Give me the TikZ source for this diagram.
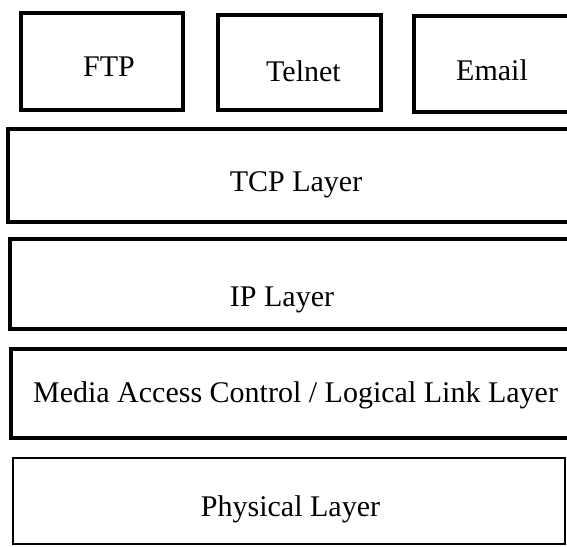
\documentclass[tikz,border=0pt]{standalone}
\usepackage{fontspec}
\setmainfont{Liberation Serif}
\begin{document}
\begin{tikzpicture}[x=1pt,y=-1pt,
  box/.style={draw=black,line width=3.4pt,rectangle,inner sep=0pt},
  thinbox/.style={box,line width=2.4pt},
  lbl/.style={anchor=base,inner sep=0pt,font=\fontsize{30}{36}\selectfont}]
\useasboundingbox (0,0) rectangle (567,546);
\clip (0,0) rectangle (567,546);
\fill[white] (0,0) rectangle (567,546);
% boxes (right-hand ones run past the page edge, as in the reference)
\node[box,minimum width=162pt,minimum height=97pt] (ftp) at (102,61.5) {};
\node[box,minimum width=163pt,minimum height=95pt] (telnet) at (299.5,62.5) {};
\node[box,minimum width=176pt,minimum height=96pt] (email) at (502,64) {};
\node[box,minimum width=582pt,minimum height=93pt] (tcp) at (299,175.5) {};
\node[box,minimum width=580pt,minimum height=90pt] (ip) at (300,284) {};
\node[box,minimum width=579pt,minimum height=89pt] (mac) at (300.5,393.5) {};
\node[thinbox,minimum width=552pt,minimum height=86pt] (phys) at (289,501) {};
% labels
\node[lbl] (ftpT) at (109,76) {FTP};
\node[lbl] (telnetT) at (303.5,81) {Telnet};
\node[lbl] (emailT) at (492,80) {Email};
\node[lbl] (tcpT) at (296,191) {TCP Layer};
\node[lbl] (ipT) at (282,306) {IP Layer};
\node[lbl] (macT) at (295.5,402) {Media Access Control / Logical Link Layer};
\node[lbl] (physT) at (290.5,516) {Physical Layer};
\end{tikzpicture}
\end{document}
